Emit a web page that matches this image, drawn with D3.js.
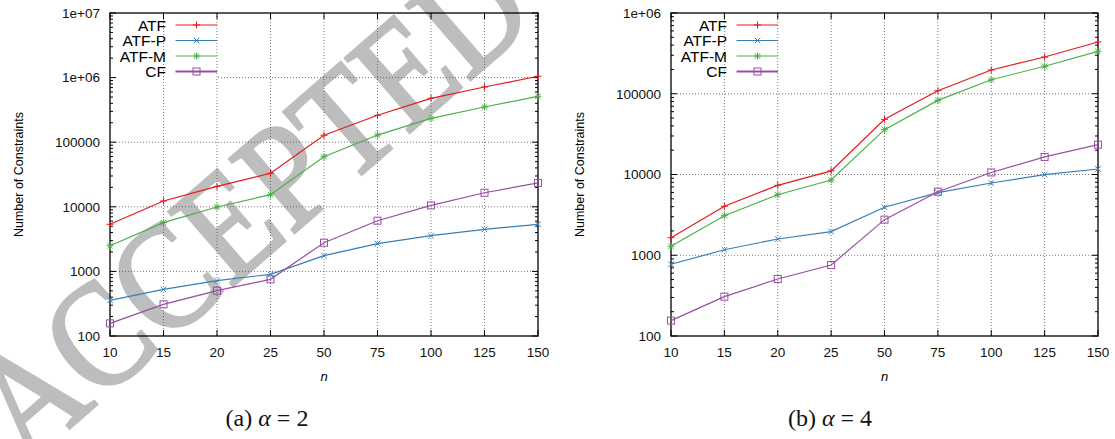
<!DOCTYPE html>
<meta charset="utf-8">
<title>constraints</title>
<style>
	body { margin: 0; background: #fff; }
	svg { display: block; font-family: "Liberation Sans", Arial, sans-serif; }
	.serif { font-family: "Liberation Serif", "DejaVu Serif", serif; }
</style>
<svg id="chart"></svg>
<script src="https://d3js.org/d3.v7.min.js"></script>
<script>
var categories = ["10", "15", "20", "25", "50", "75", "100", "125", "150"];
var seriesNames = ["ATF", "ATF-P", "ATF-M", "CF"];

// alpha = 2
var atfA2  = [5360, 12300, 20700, 33000, 128000, 261000, 478000, 715000, 1050000];
var atfpA2 = [357, 528, 720, 902, 1750, 2690, 3570, 4480, 5360];
var atfmA2 = [2500, 5680, 9930, 15400, 59700, 129000, 234000, 351000, 513000];
var cfA2   = [157, 309, 503, 754, 2780, 6090, 10500, 16500, 23400];

// alpha = 4
var atfA4  = [1650, 4040, 7350, 11100, 48200, 109000, 197000, 285000, 437000];
var atfpA4 = [773, 1170, 1590, 1960, 3930, 5960, 7850, 9950, 11700];
var atfmA4 = [1290, 3090, 5620, 8550, 35900, 82800, 149000, 219000, 335000];
var cfA4   = [155, 307, 508, 757, 2760, 6120, 10600, 16500, 23400];

var yTicksA2 = [100, 1000, 10000, 100000, 1e6, 1e7];
var yTickLabelsA2 = ["100", "1000", "10000", "100000", "1e+06", "1e+07"];
var yTicksA4 = [100, 1000, 10000, 100000, 1e6];
var yTickLabelsA4 = ["100", "1000", "10000", "100000", "1e+06"];

var colors = ["#e41a1c", "#377eb8", "#4daf4a", "#984ea3"];
var markers = ["plus", "cross", "star", "square"];

var width = 1115, height = 439;
var svg = d3.select("#chart").attr("width", width).attr("height", height);

// watermark behind everything
svg.append("text")
	.attr("class", "serif")
	.attr("transform", "translate(26,466) rotate(-41)")
	.attr("font-size", 150)
	.attr("fill", "#bdbdbd")
	.attr("stroke", "#bdbdbd")
	.attr("stroke-width", 3)
	.attr("textLength", 680)
	.attr("lengthAdjust", "spacingAndGlyphs")
	.text("ACCEPTED");

function drawMarker(g, type, x, y, color) {
	var s = 3.5;
	if (type == "plus" || type == "star") {
		g.append("path").attr("d", `M${x-s},${y}H${x+s}M${x},${y-s}V${y+s}`)
			.attr("stroke", color).attr("stroke-width", 1).attr("fill", "none");
	}
	if (type == "cross" || type == "star") {
		var c = 2.8;
		g.append("path").attr("d", `M${x-c},${y-c}L${x+c},${y+c}M${x-c},${y+c}L${x+c},${y-c}`)
			.attr("stroke", color).attr("stroke-width", 1).attr("fill", "none");
	}
	if (type == "square") {
		g.append("rect").attr("x", x - 3.5).attr("y", y - 3.5).attr("width", 7).attr("height", 7)
			.attr("stroke", color).attr("stroke-width", 1).attr("fill", "none");
	}
}

function drawPanel(opt) {
	var g = svg.append("g");
	var x = d3.scalePoint().domain(categories).range([opt.left, opt.right]).padding(0);
	var y = d3.scaleLog().domain([100, opt.ymax]).range([opt.bottom, opt.top]);

	// grid
	g.selectAll(".gx").data(categories.slice(1, -1)).enter().append("line")
		.attr("x1", d => x(d)).attr("x2", d => x(d))
		.attr("y1", opt.top).attr("y2", opt.bottom)
		.attr("stroke", "#555").attr("stroke-width", 0.8).attr("stroke-dasharray", "1,2");
	var legendRight = opt.left + 108;
	g.selectAll(".gy").data(opt.yticks.slice(1, -1)).enter().append("line")
		.attr("x1", d => y(d) < opt.top + 66 ? legendRight : opt.left)
		.attr("x2", opt.right)
		.attr("y1", d => y(d)).attr("y2", d => y(d))
		.attr("stroke", "#555").attr("stroke-width", 0.8).attr("stroke-dasharray", "1,2");

	// ticks: minor on log axis, both sides
	var minor = [];
	for (var dec = 100; dec < opt.ymax; dec *= 10) {
		for (var k = 2; k <= 9; k++) minor.push(dec * k);
	}
	g.selectAll(".mt").data(minor).enter().append("path")
		.attr("d", d => `M${opt.left},${y(d)}h3M${opt.right},${y(d)}h-3`)
		.attr("stroke", "#000").attr("stroke-width", 1);
	g.selectAll(".Mt").data(opt.yticks).enter().append("path")
		.attr("d", d => `M${opt.left},${y(d)}h6M${opt.right},${y(d)}h-6`)
		.attr("stroke", "#000").attr("stroke-width", 1);
	g.selectAll(".xt").data(categories).enter().append("path")
		.attr("d", d => `M${x(d)},${opt.bottom}v-6M${x(d)},${opt.top}v6`)
		.attr("stroke", "#000").attr("stroke-width", 1);

	// frame
	g.append("rect").attr("x", opt.left).attr("y", opt.top)
		.attr("width", opt.right - opt.left).attr("height", opt.bottom - opt.top)
		.attr("fill", "none").attr("stroke", "#000").attr("stroke-width", 1.3);

	// tick labels
	g.selectAll(".yl").data(opt.yticks).enter().append("text")
		.attr("x", opt.left - 10).attr("y", d => y(d)).attr("dy", "0.36em")
		.attr("text-anchor", "end").attr("font-size", 13.5).attr("fill", "#111")
		.text((d, i) => opt.ylabels[i]);
	g.selectAll(".xl").data(categories).enter().append("text")
		.attr("x", d => x(d)).attr("y", opt.bottom + 16).attr("dy", "0.36em")
		.attr("text-anchor", "middle").attr("font-size", 13.5).attr("fill", "#111")
		.text(d => d);

	g.append("text").attr("x", (opt.left + opt.right) / 2).attr("y", opt.bottom + 40)
		.attr("dy", "0.36em").attr("text-anchor", "middle").attr("font-size", 13)
		.attr("font-style", "italic").text("n");
	g.append("text")
		.attr("transform", `translate(${opt.left - 92},${(opt.top + opt.bottom) / 2}) rotate(-90)`)
		.attr("dy", "0.36em").attr("text-anchor", "middle").attr("font-size", 12.5)
		.text("Number of Constraints");

	// series
	var line = d3.line().x((d, i) => x(categories[i])).y(d => y(d));
	opt.series.forEach(function(vals, si) {
		g.append("path").datum(vals).attr("d", line)
			.attr("fill", "none").attr("stroke", colors[si]).attr("stroke-width", 1.2);
		vals.forEach(function(v, i) {
			drawMarker(g, markers[si], x(categories[i]), y(v), colors[si]);
		});
	});

	// legend
	seriesNames.forEach(function(name, si) {
		var ly = opt.top + 12 + si * 15.5;
		g.append("text").attr("x", opt.left + 56).attr("y", ly).attr("dy", "0.36em")
			.attr("text-anchor", "end").attr("font-size", 15.5).text(name);
		g.append("line").attr("x1", opt.left + 65.5).attr("x2", opt.left + 107)
			.attr("y1", ly).attr("y2", ly)
			.attr("stroke", colors[si]).attr("stroke-width", si == 3 ? 2 : 1.2);
		drawMarker(g, markers[si], opt.left + 86.5, ly, colors[si]);
	});

	// caption
	var cap = g.append("text").attr("class", "serif").attr("x", opt.capX).attr("y", 417).attr("dy", "0.36em")
		.attr("text-anchor", "middle").attr("font-size", 24).attr("fill", "#111");
	cap.append("tspan").text(opt.capLetter + " ");
	cap.append("tspan").attr("font-style", "italic").text("α");
	cap.append("tspan").text(" = " + opt.capNum);
}

drawPanel({
	left: 110, right: 538, top: 13, bottom: 336, ymax: 1e7,
	yticks: yTicksA2, ylabels: yTickLabelsA2,
	series: [atfA2, atfpA2, atfmA2, cfA2],
	capX: 267, capLetter: "(a)", capNum: "2"
});
drawPanel({
	left: 671, right: 1098, top: 13, bottom: 336, ymax: 1e6,
	yticks: yTicksA4, ylabels: yTickLabelsA4,
	series: [atfA4, atfpA4, atfmA4, cfA4],
	capX: 830, capLetter: "(b)", capNum: "4"
});
</script>
